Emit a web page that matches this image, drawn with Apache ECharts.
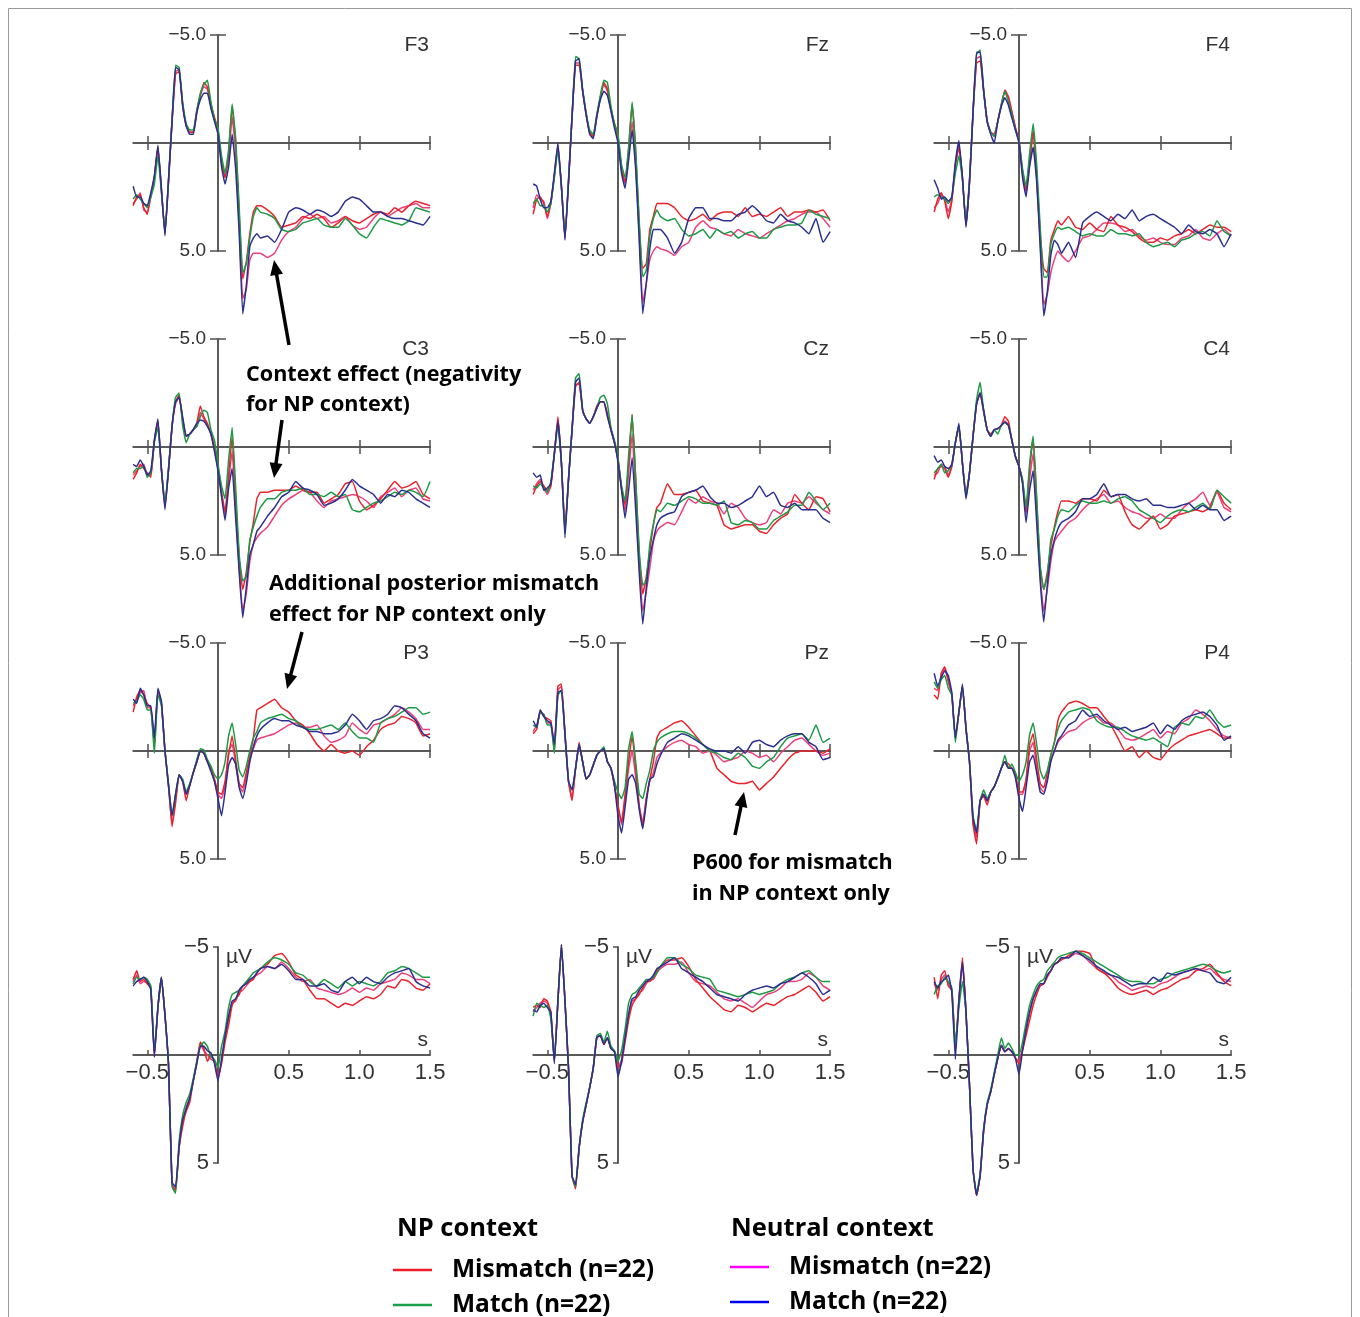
<!DOCTYPE html>
<html><head><meta charset="utf-8">
<script src="https://cdn.jsdelivr.net/npm/echarts@6/dist/echarts.min.js"></script>
<style>html,body{margin:0;padding:0;background:#fff}#c{width:1360px;height:1317px}</style>
</head><body><div id="c"></div>
<script>
// time (s)
const T = [-0.6,-0.575,-0.55,-0.525,-0.5,-0.475,-0.45,-0.425,-0.4,-0.375,-0.35,-0.325,-0.3,-0.275,-0.25,-0.225,-0.2,-0.175,-0.15,-0.125,-0.1,-0.075,-0.05,-0.025,0,0.025,0.05,0.075,0.1,0.125,0.15,0.175,0.2,0.225,0.25,0.275,0.3,
  0.35,0.4,0.45,0.5,0.55,0.6,0.65,0.7,0.75,0.8,0.85,0.9,0.95,1.0,1.05,1.1,1.15,1.2,1.25,1.3,1.35,1.4,1.45,1.5];

// µV; R = NP mismatch, G = NP match, M = neutral mismatch, B = neutral match
const F3_R = [2.9,2.5,2.4,3.0,3.3,2.4,1.6,0.2,2.2,4.2,1.8,-1.0,-3.2,-3.3,-1.8,-0.8,-0.5,-0.5,-1.5,-2.2,-2.8,-2.6,-1.8,-1.2,-0.6,0.8,1.6,0.5,-1.7,0.0,3.3,6.3,5.5,4.2,3.2,2.9,2.9, 3.1,3.4,3.9,3.8,3.7,3.4,3.5,3.3,3.5,3.9,3.7,3.4,3.6,3.7,3.5,3.3,3.2,3.3,3.0,3.2,2.9,2.7,2.8,2.9];
const F3_G = [2.6,2.4,2.6,2.8,3.0,2.5,1.9,0.6,2.3,4.1,1.7,-1.1,-3.6,-3.5,-1.9,-0.9,-0.6,-0.6,-1.5,-2.3,-2.7,-2.9,-1.9,-1.1,-0.7,0.6,1.4,0.3,-1.8,-0.2,3.0,6.0,5.6,4.4,3.4,3.0,3.2, 3.3,3.5,4.0,4.1,4.0,3.7,3.6,3.5,3.8,3.9,3.9,3.5,3.8,4.2,4.4,3.9,3.5,3.6,3.7,3.8,3.6,3.0,3.1,3.2];
const F3_M = [2.8,2.6,2.3,3.1,3.2,2.5,1.6,0.2,2.2,4.2,1.8,-1.0,-3.3,-3.4,-1.8,-0.8,-0.5,-0.5,-1.4,-2.2,-2.6,-2.5,-1.7,-1.1,-0.5,0.9,1.6,0.7,-1.2,0.4,3.8,7.2,6.8,5.4,5.1,5.1,5.1, 5.3,5.1,4.5,4.1,3.9,3.5,3.3,3.5,3.4,3.7,3.6,3.4,3.8,4.0,3.9,3.5,3.2,3.4,3.2,3.0,2.9,2.8,3.0,3.0];
const F3_B = [2.0,2.5,2.5,2.8,2.9,2.3,1.5,0.1,2.1,4.3,1.7,-1.0,-3.5,-3.4,-1.7,-0.8,-0.4,-0.4,-1.4,-2.0,-2.3,-2.3,-1.6,-1.0,-0.4,1.1,1.9,1.1,-0.4,1.2,4.2,7.9,6.6,4.8,4.4,4.2,4.4, 4.3,4.6,4.0,3.2,3.0,3.1,3.3,3.1,3.2,3.4,3.2,2.7,2.5,2.6,2.9,3.2,3.2,3.4,3.5,3.5,3.6,3.7,3.8,3.4];

const Fz_R = [3.3,2.6,2.5,2.8,3.4,2.8,1.5,0.1,2.0,4.4,1.8,-1.2,-3.6,-3.6,-2.4,-1.3,-0.5,-0.3,-1.3,-2.1,-2.8,-2.5,-1.6,-0.9,-0.3,1.2,1.8,0.3,-1.8,0.4,3.8,5.8,5.6,4.0,3.4,2.8,2.8, 2.8,3.0,3.4,3.6,3.5,3.3,3.6,3.3,3.2,3.2,3.4,3.0,3.4,3.3,3.4,3.2,3.0,3.4,3.2,3.2,3.1,3.2,3.1,3.6];
const Fz_G = [2.8,2.6,2.9,2.9,3.2,2.8,1.6,0.3,2.1,4.3,1.7,-1.3,-4.0,-3.9,-2.5,-1.4,-0.6,-0.4,-1.3,-2.2,-2.9,-2.8,-1.7,-0.9,-0.4,1.0,1.6,0.2,-1.9,0.3,3.6,6.2,5.9,4.3,3.5,3.1,3.4, 3.6,3.5,4.0,4.3,4.2,4.0,4.4,4.0,4.2,4.1,4.4,4.2,4.1,4.4,4.4,4.0,3.9,3.8,3.8,3.7,3.1,3.3,3.4,3.5];
const Fz_M = [3.0,2.4,2.6,2.7,3.5,2.8,1.5,0.1,2.0,4.4,1.8,-1.2,-3.7,-3.7,-2.4,-1.3,-0.5,-0.3,-1.2,-2.1,-2.7,-2.4,-1.5,-0.8,-0.2,1.2,1.9,0.5,-1.0,1.0,4.2,7.4,6.5,5.4,5.0,4.8,4.9, 5.0,5.2,4.8,4.6,3.9,3.6,3.9,4.0,4.2,4.3,4.0,4.2,4.3,4.4,4.2,4.0,3.8,3.6,3.5,3.3,3.2,3.2,3.5,3.9];
const Fz_B = [1.9,2.0,2.6,3.0,3.0,2.7,1.4,0.0,2.0,4.5,1.8,-1.2,-3.8,-3.9,-2.4,-1.3,-0.4,-0.2,-1.2,-2.0,-2.4,-2.2,-1.5,-0.7,0.0,1.4,2.1,0.8,-0.6,1.2,4.5,7.9,6.5,4.9,4.0,4.0,4.0, 4.4,5.1,4.6,3.5,3.0,3.0,3.5,3.5,3.6,3.6,3.3,3.2,2.9,3.2,3.6,3.7,3.3,3.6,3.7,3.9,4.2,3.5,4.6,4.1];

const F4_R = [3.2,2.6,2.3,2.7,3.5,2.7,1.1,0.1,1.6,3.8,1.8,-1.4,-3.7,-3.8,-2.4,-1.0,-0.5,-0.4,-1.0,-1.75,-2.45,-2.15,-1.45,-0.7,-0.1,1.3,2.2,0.8,-0.6,1.4,4.2,5.8,6.0,4.5,4.0,3.6,3.8, 3.4,3.9,4.0,3.7,4.0,4.1,3.4,3.8,3.9,4.1,4.4,4.6,4.6,4.4,4.5,4.3,4.2,4.0,4.2,4.0,3.8,3.9,3.9,4.1];
const F4_G = [2.5,2.4,2.5,2.6,2.8,2.5,1.4,0.6,1.7,3.7,1.7,-1.5,-4.1,-4.3,-2.5,-1.0,-0.5,-0.3,-1.0,-1.8,-2.4,-1.9,-1.3,-0.6,-0.1,1.2,2.0,0.5,-0.9,1.0,3.9,6.2,6.2,4.7,4.2,3.9,4.0, 3.9,4.1,4.3,4.2,4.3,4.3,4.0,4.2,4.2,4.3,4.2,4.6,4.8,4.7,4.6,4.8,4.5,4.4,4.2,4.1,4.3,3.6,4.1,4.3];
const F4_M = [3.0,2.8,2.4,2.6,3.2,2.6,1.0,0.2,1.6,3.8,1.8,-1.4,-3.9,-4.0,-2.4,-1.0,-0.5,-0.3,-1.0,-1.75,-2.4,-2.1,-1.4,-0.7,-0.1,1.4,2.3,0.9,-0.4,1.6,4.6,7.5,7.0,6.0,5.4,5.0,5.2, 5.5,5.0,4.4,4.3,4.0,3.7,3.7,3.8,4.1,4.0,4.3,4.5,4.4,4.6,4.7,4.7,4.4,4.3,4.0,4.4,4.5,4.2,4.0,4.3];
const F4_B = [1.7,2.1,2.6,2.5,2.7,2.5,0.9,-0.1,1.6,3.9,1.8,-1.4,-4.2,-4.2,-2.4,-1.0,-0.4,0.0,-1.0,-1.7,-2.1,-1.75,-1.15,-0.6,0.0,1.6,2.5,1.1,0.2,1.8,4.8,8.0,6.9,5.2,4.5,4.7,5.1, 4.6,5.3,3.7,3.4,3.2,3.4,3.6,3.3,3.5,3.1,3.6,3.4,3.3,3.5,3.7,3.9,4.2,3.8,4.1,4.2,4.0,4.2,4.8,4.2];

const C3_R = [1.5,1.2,0.8,1.0,1.2,1.4,-0.3,-1.2,1.05,2.7,1.05,-0.95,-2.1,-2.4,-1.2,-0.5,-0.6,-0.8,-1.1,-1.9,-1.4,-1.1,-0.6,0.0,0.9,2.1,3.0,1.3,-0.5,2.4,5.2,6.6,5.8,4.4,3.5,2.4,2.1, 2.1,2.0,2.0,2.0,1.8,2.0,2.1,2.1,2.6,2.4,2.2,1.7,1.6,2.5,2.9,2.7,2.4,2.0,1.6,1.9,1.8,1.6,2.2,2.4];
const C3_G = [1.2,1.0,1.0,0.9,1.4,1.2,-0.2,-0.9,1.0,2.6,1.0,-1.0,-2.3,-2.5,-1.0,-0.2,-0.6,-0.8,-0.95,-1.4,-1.7,-1.6,-0.8,-0.3,0.8,1.8,2.4,0.6,-0.9,1.9,5.0,6.2,6.0,4.3,3.7,3.2,2.8, 2.4,2.4,2.1,2.0,2.0,1.9,2.2,2.2,2.3,2.1,2.3,2.2,2.9,3.0,2.8,2.6,2.5,2.3,2.1,2.2,2.0,2.1,2.3,1.6];
const C3_M = [1.3,1.1,0.9,0.8,1.3,1.3,-0.3,-1.2,1.05,2.8,1.05,-0.95,-2.0,-2.3,-1.3,-0.5,-0.6,-0.8,-0.95,-1.6,-1.3,-1.0,-0.6,0.1,1.0,2.1,3.2,1.6,0.2,2.9,5.6,7.6,6.8,5.3,4.5,4.2,4.0, 3.7,3.2,2.7,2.4,2.2,2.0,2.1,2.5,2.8,2.5,2.4,2.3,2.2,2.3,2.5,2.8,2.3,2.1,1.9,2.3,2.0,1.9,2.4,2.5];
const C3_B = [0.8,0.9,0.6,0.9,1.3,1.1,-0.3,-1.3,1.05,2.9,1.05,-0.95,-2.1,-2.3,-1.4,-0.5,-0.6,-0.8,-1.1,-1.25,-1.2,-0.95,-0.6,0.2,1.1,2.3,3.4,1.9,1.0,3.3,5.8,7.9,6.5,5.0,4.5,3.9,3.7, 3.2,2.8,2.3,2.1,1.6,1.9,2.0,2.2,2.7,2.6,2.4,2.0,1.5,1.8,2.0,2.2,2.6,2.2,2.3,2.0,2.1,2.4,2.6,2.8];

const Cz_R = [2.2,1.8,1.6,1.8,2.0,1.8,0.3,-1.4,0.75,3.8,1.5,-0.8,-2.8,-3.0,-1.7,-1.3,-1.1,-1.4,-1.9,-2.1,-2.1,-1.55,-0.8,-0.2,0.6,1.9,2.7,0.8,-1.5,1.5,5.0,6.8,6.0,4.8,3.6,2.8,2.6, 1.7,2.2,2.2,2.1,2.0,2.5,2.6,2.7,3.6,3.8,3.7,3.6,3.6,3.9,4.0,3.6,3.3,3.1,2.2,2.6,2.9,2.3,2.4,3.0];
const Cz_G = [1.8,1.9,1.7,1.9,2.1,1.6,0.3,-1.0,0.75,4.0,1.5,-0.8,-3.2,-3.4,-1.7,-1.3,-1.1,-1.4,-1.8,-2.3,-2.4,-2.0,-0.9,-0.3,0.5,1.8,2.5,0.4,-1.5,1.4,4.8,6.4,6.2,4.5,3.6,2.9,3.0, 2.6,2.7,2.5,2.3,2.4,2.6,2.6,2.7,2.5,3.5,3.6,3.4,3.5,3.8,3.8,3.4,3.2,3.0,2.7,2.7,2.1,2.5,2.9,2.6];
const Cz_M = [2.0,1.7,1.5,1.9,2.2,1.8,0.3,-1.3,0.75,3.9,1.5,-0.8,-2.9,-2.9,-1.7,-1.3,-1.1,-1.4,-1.8,-2.1,-2.1,-1.5,-0.8,-0.2,0.6,1.9,3.0,1.2,-0.6,2.2,5.4,7.6,6.7,5.6,4.4,3.9,3.7, 3.5,3.6,3.0,2.4,2.6,2.3,2.5,2.6,3.1,2.6,2.8,3.3,3.5,3.6,3.5,2.9,3.1,2.6,2.5,2.6,2.3,2.6,2.9,3.1];
const Cz_B = [1.2,1.4,1.3,2.0,1.9,1.7,0.3,-1.2,0.75,4.2,1.5,-0.8,-3.0,-3.2,-1.7,-1.3,-1.1,-1.4,-1.8,-2.1,-2.1,-1.4,-0.8,-0.2,0.7,2.0,3.3,2.0,0.5,2.9,5.8,8.2,6.5,5.1,4.3,3.6,3.3, 3.1,3.0,2.3,2.1,2.0,1.8,2.3,2.6,2.6,2.8,2.7,2.5,2.3,1.8,2.3,2.1,2.7,2.8,2.6,2.9,2.9,2.9,3.3,3.5];

const C4_R = [1.5,1.0,0.9,1.0,1.4,0.9,-0.2,-0.9,0.75,2.2,1.2,-0.5,-2.0,-2.5,-1.6,-0.8,-0.6,-0.8,-0.85,-1.0,-1.4,-1.2,-0.3,0.45,0.9,1.6,3.0,1.0,-0.4,2.5,5.6,6.6,5.8,4.6,3.7,3.0,2.5, 2.5,2.6,2.4,2.4,2.5,2.0,2.3,2.2,3.0,3.6,3.8,3.5,3.2,3.8,3.6,3.2,3.1,3.0,2.9,3.0,2.8,2.0,2.6,2.9];
const C4_G = [1.2,1.0,0.8,1.2,1.1,0.8,-0.2,-1.0,0.75,2.3,1.2,-0.5,-2.2,-3.0,-1.7,-0.8,-0.5,-0.8,-0.6,-1.0,-1.15,-1.0,-0.3,0.45,0.9,1.5,2.8,0.8,-0.5,2.3,5.5,6.6,6.0,4.3,3.8,3.2,2.9, 3.0,2.7,2.5,2.6,2.6,2.5,2.6,2.4,2.3,2.5,2.9,3.1,3.3,3.5,3.2,3.0,2.9,3.0,2.8,2.6,2.9,2.0,2.3,2.6];
const C4_M = [1.3,1.2,0.8,0.9,1.3,0.9,-0.2,-1.0,0.75,2.2,1.2,-0.5,-2.0,-2.5,-1.7,-0.8,-0.5,-0.8,-0.85,-1.0,-1.2,-1.05,-0.3,0.45,0.9,1.6,3.1,1.5,0.3,3.0,6.0,7.6,6.6,5.3,4.4,4.1,3.9, 3.5,3.3,2.9,2.6,2.4,2.2,2.6,2.5,2.8,3.0,3.1,3.3,3.3,3.1,3.3,3.3,2.9,2.6,2.4,2.1,2.7,2.1,2.8,3.0];
const C4_B = [0.4,0.7,0.6,0.9,1.0,0.8,-0.2,-1.1,0.75,2.4,1.2,-0.5,-2.0,-2.5,-1.7,-0.8,-0.5,-0.8,-0.85,-1.0,-1.15,-1.0,-0.3,0.45,0.9,1.7,3.5,2.0,1.1,3.5,6.2,8.1,6.4,5.0,4.3,3.8,3.5, 3.3,3.0,2.4,2.4,2.2,1.7,2.3,2.2,2.2,2.4,2.5,2.4,2.7,2.7,2.8,2.8,2.7,2.6,2.9,2.7,2.9,2.9,3.4,3.2];

const P3_R = [-1.8,-2.5,-2.8,-2.6,-2.2,-2.0,-0.3,-2.8,-2.2,0.0,1.6,3.5,2.4,1.1,1.4,2.3,1.6,1.0,0.5,0.0,0.1,0.5,0.8,1.3,1.9,2.0,1.4,0.2,-0.7,0.4,1.5,1.7,1.0,0.2,-0.6,-1.9,-2.0, -2.2,-2.4,-2.0,-1.8,-1.4,-1.2,-0.8,-0.3,0.0,-0.3,0.0,0.1,0.0,0.2,-0.2,-0.5,-1.0,-1.2,-1.3,-1.6,-1.5,-1.3,-0.7,-0.8];
const P3_G = [-2.2,-2.3,-2.6,-2.4,-1.9,-1.9,0.1,-2.6,-2.1,0.0,1.5,3.0,2.0,1.1,1.3,1.9,1.5,1.0,0.4,-0.1,-0.05,0.4,0.7,1.1,1.3,1.1,0.5,-0.7,-1.3,-0.3,0.9,1.2,0.7,0.0,-0.6,-0.9,-1.3, -1.5,-1.6,-1.7,-1.5,-1.4,-1.1,-1.0,-1.0,-1.1,-1.2,-1.0,-1.3,-0.9,-0.6,-0.6,-0.4,-1.3,-1.5,-1.6,-1.8,-2.0,-2.0,-1.7,-1.8];
const P3_M = [-2.1,-2.4,-2.7,-2.8,-2.0,-2.0,-0.3,-2.8,-2.2,0.0,1.6,3.4,2.2,1.1,1.4,2.0,1.6,1.0,0.5,0.0,0.1,0.5,0.8,1.4,2.0,2.2,1.6,0.0,-0.3,0.6,1.6,1.9,1.2,0.4,-0.1,-0.5,-0.6, -0.7,-0.8,-1.0,-1.2,-1.3,-1.1,-1.1,-1.2,-0.7,-0.4,-0.5,-0.7,-1.3,-1.0,-0.8,-1.2,-1.3,-1.5,-1.7,-2.0,-1.8,-1.5,-1.0,-1.0];
const P3_B = [-2.4,-2.2,-2.9,-2.6,-2.1,-2.1,-0.6,-2.9,-2.3,0.0,1.6,3.0,2.0,1.1,1.4,2.0,1.6,1.0,0.5,0.0,0.1,0.5,0.95,1.4,2.2,3.0,1.9,0.65,0.3,0.6,1.7,2.2,1.5,0.5,-0.2,-0.7,-1.0, -1.3,-1.5,-1.4,-1.4,-1.2,-1.1,-0.9,-0.9,-0.8,-0.8,-0.9,-1.2,-1.7,-1.4,-1.0,-1.4,-1.5,-1.7,-2.1,-2.0,-1.7,-1.4,-0.8,-0.6];

const Pz_R = [-0.8,-1.0,-1.9,-1.6,-1.5,-1.4,-0.2,-3.0,-3.1,-0.8,1.4,2.3,0.8,-0.4,0.5,1.3,1.1,0.65,0.2,0.0,-0.1,0.5,0.8,1.6,2.5,3.3,2.0,0.5,-0.7,0.8,2.5,3.5,2.2,1.3,0.5,-0.6,-0.9, -1.1,-1.3,-1.4,-1.1,-0.7,-0.3,0.0,0.8,1.1,1.4,1.5,1.5,1.4,1.8,1.5,1.2,0.8,0.4,0.1,0.0,0.0,0.0,0.1,-0.1];
const Pz_G = [-1.2,-1.1,-1.8,-1.7,-1.2,-1.2,0.1,-2.6,-2.8,-0.7,1.4,1.8,0.8,-0.3,0.5,1.3,1.1,0.65,0.2,0.0,-0.2,0.5,0.8,1.4,1.9,2.2,1.7,-0.1,-0.9,0.5,2.0,2.2,1.5,0.9,0.0,-0.4,-0.6, -0.8,-0.9,-0.9,-0.8,-0.6,-0.3,0.0,0.1,0.3,0.4,0.1,0.3,0.7,0.8,0.5,0.3,-0.2,-0.6,-0.7,-0.8,-0.5,-1.2,-0.4,-0.6];
const Pz_M = [-0.9,-1.2,-1.8,-1.7,-1.3,-1.3,0.0,-2.8,-3.0,-0.8,1.4,2.2,0.8,-0.3,0.5,1.3,1.1,0.65,0.2,0.0,-0.1,0.5,0.8,1.6,2.6,3.4,2.3,0.8,0.0,1.2,2.6,3.3,2.2,1.4,1.0,0.3,0.1, -0.2,-0.4,-0.5,-0.3,-0.2,0.1,0.0,0.2,0.5,0.4,0.3,0.0,0.1,0.3,0.2,0.5,0.1,-0.2,-0.5,-0.6,-0.3,0.0,0.2,0.1];
const Pz_B = [-1.4,-1.1,-1.9,-1.6,-1.4,-1.3,-0.3,-2.7,-2.8,-0.8,1.4,1.8,0.8,-0.3,0.5,1.3,1.1,0.65,0.2,0.0,-0.1,0.5,0.8,1.6,3.0,3.8,2.6,1.3,1.1,1.5,2.7,3.6,2.4,1.3,1.2,0.6,0.2, -0.4,-0.6,-0.8,-0.7,-0.5,-0.3,-0.1,0.0,0.0,0.1,-0.2,0.1,-0.4,-0.5,-0.3,-0.2,-0.5,-0.7,-0.8,-0.8,-0.4,-0.2,0.4,0.3];

const P4_R = [-2.6,-2.4,-3.6,-3.9,-3.3,-2.6,-0.6,-1.8,-3.0,-1.05,0.5,3.4,4.3,2.3,2.1,2.5,1.9,1.65,1.25,0.8,0.5,0.6,0.8,1.1,1.9,1.9,1.3,-0.3,-0.8,0.4,1.5,1.7,1.0,0.2,-0.4,-1.4,-1.8, -2.2,-2.3,-2.2,-2.0,-2.0,-1.6,-1.2,-0.6,0.0,-0.2,0.3,0.0,0.3,0.4,0.0,-0.3,-0.5,-0.7,-0.8,-0.9,-1.0,-0.8,-0.6,-0.6];
const P4_G = [-3.2,-2.9,-3.3,-3.5,-2.9,-2.6,-0.4,-1.8,-3.0,-1.05,0.5,3.0,3.7,2.3,1.8,2.2,1.9,1.65,1.25,0.8,0.2,0.8,0.6,1.0,1.4,1.1,0.5,-0.75,-1.3,-0.3,0.9,1.3,0.9,0.2,-0.4,-1.0,-1.4, -1.8,-1.9,-2.0,-1.9,-1.4,-1.2,-1.1,-1.1,-0.9,-0.7,-0.6,-0.5,-0.6,-0.4,-0.2,-1.1,-1.3,-1.2,-1.6,-1.5,-1.9,-1.4,-1.1,-1.2];
const P4_M = [-2.9,-2.8,-3.5,-3.8,-3.2,-2.6,-0.6,-1.8,-3.0,-1.05,0.5,3.3,4.0,2.3,2.0,2.3,1.9,1.65,1.25,0.8,0.5,0.8,0.8,1.1,2.0,2.0,1.4,0.0,-0.4,0.8,1.7,1.9,1.3,0.4,0.0,-0.4,-0.6, -0.9,-1.0,-1.3,-1.5,-1.6,-1.3,-1.3,-1.0,-0.6,-0.5,-0.6,-0.8,-1.0,-0.6,-0.9,-0.8,-1.3,-1.5,-1.9,-1.7,-1.4,-1.0,-0.7,-0.6];
const P4_B = [-3.6,-3.0,-3.4,-3.7,-3.5,-2.7,-0.6,-1.8,-3.1,-1.05,0.5,3.1,3.8,2.3,2.0,2.3,1.9,1.65,1.25,0.8,0.5,0.8,0.8,1.25,2.2,2.8,1.7,0.5,0.2,1.0,1.9,2.0,1.4,0.5,0.0,-0.5,-0.7, -1.2,-1.4,-1.9,-1.6,-1.7,-1.4,-1.2,-1.0,-1.1,-0.9,-1.0,-1.1,-1.3,-0.8,-1.2,-1.0,-1.4,-1.6,-1.7,-1.8,-1.6,-1.2,-0.5,-0.7];

// bottom row (left / middle / right)
const L4_R = [-3.5,-3.9,-3.4,-3.5,-3.3,-3.1,0.0,-2.2,-3.6,-1.85,0.45,6.0,6.3,4.3,3.3,2.6,2.2,1.2,0.3,-0.6,-0.3,0.3,0.0,0.3,1.0,0.4,-0.6,-1.4,-2.3,-2.6,-2.8,-3.2,-3.3,-3.4,-3.5,-3.8,-4.0, -4.2,-4.6,-4.7,-4.3,-3.7,-3.5,-3.0,-2.6,-2.6,-2.4,-2.2,-2.4,-2.3,-2.5,-2.7,-2.6,-2.8,-3.2,-3.1,-3.5,-3.4,-3.1,-3.0,-3.3];
const L4_G = [-3.3,-3.6,-3.5,-3.6,-3.5,-3.2,-0.2,-2.2,-3.6,-1.85,0.45,6.1,6.4,4.0,2.8,2.2,1.8,1.1,0.3,-0.4,-0.6,-0.4,0.1,0.2,0.6,-0.4,-1.1,-2.2,-2.8,-2.9,-3.0,-3.2,-3.4,-3.6,-3.8,-3.9,-4.0, -4.3,-4.5,-4.4,-4.2,-3.8,-3.7,-3.4,-3.2,-3.5,-3.3,-3.1,-3.4,-3.2,-3.4,-3.3,-3.2,-3.4,-3.8,-3.9,-4.1,-4.0,-3.8,-3.6,-3.6];
const L4_M = [-3.4,-3.7,-3.3,-3.4,-3.3,-3.1,0.0,-2.2,-3.6,-1.85,0.45,6.0,6.2,4.3,3.1,2.4,2.0,1.2,0.4,-0.5,-0.2,0.0,0.2,0.3,1.1,0.3,-0.8,-1.7,-2.4,-2.5,-2.9,-3.0,-3.2,-3.4,-3.6,-3.7,-3.8, -4.1,-4.0,-4.3,-4.0,-3.6,-3.4,-3.5,-3.1,-3.0,-2.9,-2.8,-2.9,-3.1,-2.9,-3.1,-3.0,-3.3,-3.4,-3.5,-3.8,-3.7,-3.5,-3.5,-3.3];
const L4_B = [-3.2,-3.4,-3.5,-3.6,-3.4,-3.0,0.1,-2.2,-3.6,-1.85,0.45,5.9,6.1,4.2,3.0,2.5,2.0,1.2,0.4,-0.4,-0.4,-0.2,-0.1,0.4,1.2,0.2,-0.9,-1.8,-2.5,-2.6,-3.0,-3.2,-3.3,-3.5,-3.6,-3.8,-4.0, -4.1,-4.0,-4.2,-3.9,-3.5,-3.5,-3.2,-3.2,-3.3,-3.0,-2.9,-3.4,-3.6,-3.3,-3.6,-3.4,-3.3,-3.6,-3.8,-3.9,-4.0,-3.4,-3.2,-3.1];

const M4_R = [-2.2,-2.3,-2.2,-2.6,-2.5,-2.0,0.3,-2.5,-5.1,-2.5,0.6,5.6,6.2,4.3,3.1,2.3,1.5,0.6,-0.8,-0.9,-0.5,-0.8,-0.3,-0.15,0.6,0.4,-0.6,-1.6,-2.3,-2.6,-2.8,-3.1,-3.4,-3.4,-3.6,-3.9,-4.1, -4.4,-4.4,-4.5,-4.1,-3.5,-3.1,-2.7,-2.4,-2.1,-2.0,-2.3,-2.2,-2.0,-2.2,-2.4,-2.3,-2.5,-2.7,-2.8,-3.0,-3.2,-2.9,-2.5,-2.7];
const M4_G = [-1.8,-2.4,-2.3,-2.2,-2.3,-1.7,0.2,-2.5,-5.1,-2.5,0.6,5.6,6.1,4.3,3.0,2.2,1.5,0.6,-0.9,-1.0,-0.6,-1.1,-0.4,-0.2,0.3,-0.2,-1.2,-2.4,-2.8,-2.9,-3.1,-3.3,-3.5,-3.5,-3.6,-3.8,-4.1, -4.5,-4.5,-4.2,-4.0,-3.7,-3.6,-3.5,-3.0,-2.9,-2.8,-2.7,-2.8,-2.9,-2.8,-2.9,-3.0,-3.3,-3.5,-3.6,-3.8,-3.9,-3.6,-3.4,-3.4];
const M4_M = [-2.0,-2.2,-2.4,-2.5,-2.4,-1.9,0.3,-2.5,-5.1,-2.5,0.6,5.6,6.1,4.3,3.1,2.3,1.5,0.6,-0.8,-0.9,-0.5,-0.8,-0.3,-0.15,0.6,0.2,-0.8,-1.8,-2.5,-2.6,-2.9,-3.0,-3.3,-3.5,-3.5,-3.8,-4.0, -4.2,-4.2,-4.3,-3.8,-3.4,-3.3,-3.2,-2.9,-2.6,-2.5,-2.6,-2.4,-2.2,-2.5,-2.8,-2.9,-3.1,-3.4,-3.4,-3.5,-3.8,-3.6,-3.2,-3.0];
const M4_B = [-2.1,-2.0,-2.3,-2.4,-2.2,-2.0,0.4,-2.5,-5.1,-2.5,0.6,5.6,6.0,4.3,3.1,2.3,1.5,0.6,-0.8,-0.9,-0.5,-0.8,-0.3,-0.15,1.0,0.3,-0.8,-1.9,-2.6,-2.7,-3.0,-3.2,-3.4,-3.5,-3.7,-4.0,-4.1, -4.3,-4.5,-4.0,-3.8,-3.6,-3.4,-3.1,-2.8,-2.7,-2.6,-2.5,-2.8,-3.0,-3.1,-3.2,-3.1,-3.3,-3.4,-3.6,-3.8,-3.6,-3.3,-2.8,-3.0];

const R4_R = [-3.6,-2.6,-3.7,-3.9,-3.2,-3.0,-0.3,-2.6,-4.5,-2.0,1.4,5.3,6.5,5.6,3.5,2.3,1.7,0.9,0.15,-0.45,-0.15,-0.3,-0.15,0.15,0.4,-0.2,-0.9,-1.6,-2.3,-2.8,-3.2,-3.3,-3.6,-3.9,-4.2,-4.3,-4.4, -4.6,-4.8,-4.8,-4.7,-4.0,-3.8,-3.5,-3.1,-2.9,-2.8,-2.9,-3.0,-2.8,-3.0,-3.1,-3.3,-3.5,-3.6,-3.9,-4.0,-4.2,-3.8,-3.4,-3.2];
const R4_G = [-2.8,-3.2,-3.3,-3.6,-3.4,-3.1,-0.5,-2.2,-3.4,-2.0,1.4,5.3,6.4,5.5,3.4,2.2,1.6,0.8,0.0,-0.8,-0.3,-0.55,-0.3,0.0,0.0,-0.6,-1.5,-2.3,-2.8,-3.2,-3.4,-3.5,-3.9,-4.1,-4.3,-4.5,-4.6, -4.7,-4.8,-4.7,-4.5,-4.3,-4.1,-3.9,-3.7,-3.5,-3.4,-3.4,-3.3,-3.3,-3.5,-3.6,-3.8,-3.9,-4.0,-4.1,-4.2,-4.1,-3.9,-3.8,-3.9];
const R4_M = [-3.3,-3.0,-3.5,-3.7,-3.3,-3.0,-0.4,-2.5,-4.3,-2.0,1.4,5.3,6.5,5.6,3.5,2.3,1.7,0.9,0.15,-0.45,-0.15,-0.3,-0.15,0.15,0.3,-0.3,-1.1,-1.9,-2.6,-2.9,-3.3,-3.3,-3.7,-3.9,-4.2,-4.3,-4.5, -4.5,-4.7,-4.6,-4.3,-4.0,-3.8,-3.7,-3.4,-3.2,-3.0,-3.1,-3.2,-3.1,-3.3,-3.4,-3.6,-3.8,-3.9,-4.0,-3.9,-4.0,-3.7,-3.5,-3.4];
const R4_B = [-3.4,-3.1,-3.4,-3.5,-3.7,-2.9,0.2,-2.5,-4.3,-2.0,1.4,5.3,6.5,5.6,3.5,2.3,1.7,0.9,0.15,-0.45,-0.15,-0.3,-0.15,0.15,0.9,-0.2,-1.2,-2.0,-2.6,-3.0,-3.3,-3.3,-3.7,-3.9,-4.2,-4.3,-4.5, -4.5,-4.8,-4.6,-4.4,-4.1,-3.9,-3.7,-3.6,-3.4,-3.2,-3.3,-3.3,-3.6,-3.4,-3.8,-3.7,-3.8,-3.9,-4.0,-3.9,-3.8,-3.4,-3.3,-3.6];

const X_TICKS = [-0.5, 0.5, 1.0, 1.5];
const Y_TICKS = [-5, 5];
const SERIES_NAMES = ['Neutral Mismatch', 'NP Mismatch', 'NP Match', 'Neutral Match'];

// panel layout: [title, row, col, neMis, npMis, npMat, neMat]
const PANELS = [
  ['F3',0,0,F3_M,F3_R,F3_G,F3_B], ['Fz',0,1,Fz_M,Fz_R,Fz_G,Fz_B], ['F4',0,2,F4_M,F4_R,F4_G,F4_B],
  ['C3',1,0,C3_M,C3_R,C3_G,C3_B], ['Cz',1,1,Cz_M,Cz_R,Cz_G,Cz_B], ['C4',1,2,C4_M,C4_R,C4_G,C4_B],
  ['P3',2,0,P3_M,P3_R,P3_G,P3_B], ['Pz',2,1,Pz_M,Pz_R,Pz_G,Pz_B], ['P4',2,2,P4_M,P4_R,P4_G,P4_B],
  ['',3,0,L4_M,L4_R,L4_G,L4_B], ['',3,1,M4_M,M4_R,M4_G,M4_B], ['',3,2,R4_M,R4_R,R4_G,R4_B]
];

const COLX = [218, 618, 1019];
const ROWTOP = [35, 339, 643, 947];
const SPX = 141.4;  // px per second
const GH = 216;     // px for 10 µV
const X_MIN = -0.6, X_MAX = 1.5, Y_MIN = -5, Y_MAX = 5;
const PLOT_COLORS = ['#ec3f7c', '#e8232b', '#1d9a45', '#2b2f8f'];
const AXIS_COL = '#505050', LABEL_COL = '#333';
const FONT = '"Liberation Sans", Arial, sans-serif';
const BOLD = '"Open Sans", "Noto Sans", sans-serif';

const chart = echarts.init(document.getElementById('c'), null, {renderer: 'canvas'});
const grids = [], xAxes = [], yAxes = [], series = [], graphics = [];
const minus = s => s.replace('-', '\u2212');

PANELS.forEach((p, g) => {
  const [title, row, col] = p;
  const bottom = row === 3;
  const gw = (X_MAX - X_MIN) * SPX;
  const left = COLX[col] + X_MIN * SPX;
  grids.push({left: left, top: ROWTOP[row], width: gw, height: GH});
  // axes sit at the zero of the other scale (offset into the grid)
  const xOff = -GH * (Y_MAX - 0) / (Y_MAX - Y_MIN);
  const yOff = X_MIN * SPX;
  const xBase = {
    type: 'value', gridIndex: g, min: X_MIN, max: X_MAX, position: 'bottom', offset: xOff,
    splitLine: {show: false},
    axisLine: {show: true, onZero: false, lineStyle: {color: AXIS_COL, width: 1.5}}
  };
  xAxes.push(Object.assign({}, xBase, {
    axisTick: {show: true, inside: true, length: bottom ? 5 : 7, customValues: X_TICKS, lineStyle: {color: AXIS_COL, width: 1.5}},
    axisLabel: bottom ? {show: true, customValues: X_TICKS, margin: 7, fontSize: 22, fontFamily: FONT, color: LABEL_COL,
      formatter: v => minus(Number(v).toFixed(1))} : {show: false}
  }));
  xAxes.push(Object.assign({}, xBase, {
    axisTick: {show: !bottom, inside: false, length: 7, customValues: X_TICKS, lineStyle: {color: AXIS_COL, width: 1.5}},
    axisLabel: {show: false}
  }));
  const yBase = {
    type: 'value', gridIndex: g, min: Y_MIN, max: Y_MAX, inverse: true, position: 'left', offset: yOff,
    splitLine: {show: false},
    axisLine: {show: true, onZero: false, lineStyle: {color: AXIS_COL, width: 1.5}}
  };
  yAxes.push(Object.assign({}, yBase, {
    axisTick: {show: true, inside: false, length: bottom ? 5 : 8, customValues: Y_TICKS, lineStyle: {color: AXIS_COL, width: 1.5}},
    axisLabel: {show: true, customValues: Y_TICKS, margin: bottom ? 9 : 12, fontSize: bottom ? 22 : 19, fontFamily: FONT, color: LABEL_COL,
      formatter: v => minus(bottom ? String(Math.round(v)) : Number(v).toFixed(1))}
  }));
  yAxes.push(Object.assign({}, yBase, {
    axisTick: {show: !bottom, inside: true, length: 8, customValues: Y_TICKS, lineStyle: {color: AXIS_COL, width: 1.5}},
    axisLabel: {show: false}
  }));
  for (let k = 0; k < 4; k++) {
    const arr = p[3 + k];
    const n = Math.min(arr.length, T.length);
    series.push({
      type: 'line', name: SERIES_NAMES[k], xAxisIndex: 2 * g, yAxisIndex: 2 * g,
      data: T.slice(0, n).map((t, i) => [t, arr[i]]),
      showSymbol: false, symbol: 'none', clip: false, smooth: 0.12,
      lineStyle: {color: PLOT_COLORS[k], width: 1.5}, itemStyle: {color: PLOT_COLORS[k]},
      animation: false, silent: true, z: 2 + k
    });
  }
  if (title) {
    graphics.push({type: 'text', style: {text: title, x: COLX[col] + 211, y: ROWTOP[row] + 10,
      align: 'right', verticalAlign: 'middle', font: '21px ' + FONT, fill: LABEL_COL}});
  } else {
    graphics.push({type: 'text', style: {text: '\u00b5V', x: COLX[col] + 8, y: ROWTOP[row] + 10,
      align: 'left', verticalAlign: 'middle', font: '21px ' + FONT, fill: LABEL_COL}});
    graphics.push({type: 'text', style: {text: 's', x: COLX[col] + 210, y: ROWTOP[row] + 93,
      align: 'right', verticalAlign: 'middle', font: '21px ' + FONT, fill: LABEL_COL}});
  }
});

// annotations
function arrow(x1, y1, x2, y2) {
  const dx = x2 - x1, dy = y2 - y1, L = Math.hypot(dx, dy), ux = dx / L, uy = dy / L;
  const hl = 15, hw = 6.5;
  const bx = x2 - ux * hl, by = y2 - uy * hl;
  graphics.push({type: 'line', shape: {x1: x1, y1: y1, x2: bx + ux * 2, y2: by + uy * 2}, style: {stroke: '#000', lineWidth: 3.5}, z: 20});
  graphics.push({type: 'polygon', shape: {points: [[x2, y2], [bx - uy * hw, by + ux * hw], [bx + uy * hw, by - ux * hw]]}, style: {fill: '#000'}, z: 20});
}
function btext(t, x, y, size) {
  graphics.push({type: 'text', style: {text: t, x: x, y: y, align: 'left', verticalAlign: 'middle',
    font: 'bold ' + size + 'px ' + BOLD, fill: '#000'}, z: 20});
}
btext('Context effect (negativity', 246, 375, 21.6);
btext('for NP context)', 246, 405, 21.6);
btext('Additional posterior mismatch', 269, 584, 21.6);
btext('effect for NP context only', 269, 615, 21.6);
btext('P600 for mismatch', 692, 863, 21.6);
btext('in NP context only', 692, 894, 21.6);
arrow(289, 345, 274, 260);
arrow(282, 420, 274, 478);
arrow(302, 632, 287, 689);
arrow(735, 835, 744, 792);

// legend
const LEG = [
  {head: 'NP context', hx: 397, lx: 393, items: [['Mismatch (n=22)', '#ee1c25', 1270], ['Match (n=22)', '#1aa04a', 1305]]},
  {head: 'Neutral context', hx: 731, lx: 730, items: [['Mismatch (n=22)', '#ff00ff', 1267], ['Match (n=22)', '#0000ee', 1302]]}
];
LEG.forEach(L => {
  btext(L.head, L.hx, 1229, 25.5);
  L.items.forEach(([t, c, y]) => {
    graphics.push({type: 'line', shape: {x1: L.lx, y1: y, x2: L.lx + 39, y2: y}, style: {stroke: c, lineWidth: 2.5}, z: 20});
    btext(t, L.lx + 59, y, 24.5);
  });
});
// frame
graphics.push({type: 'rect', shape: {x: 8.5, y: 8.5, width: 1343, height: 1330}, style: {fill: 'none', stroke: '#9a9a9a', lineWidth: 1}, z: 0});

chart.setOption({
  animation: false,
  backgroundColor: '#fff',
  grid: grids, xAxis: xAxes, yAxis: yAxes, series: series, graphic: graphics
});
</script>
</body></html>
